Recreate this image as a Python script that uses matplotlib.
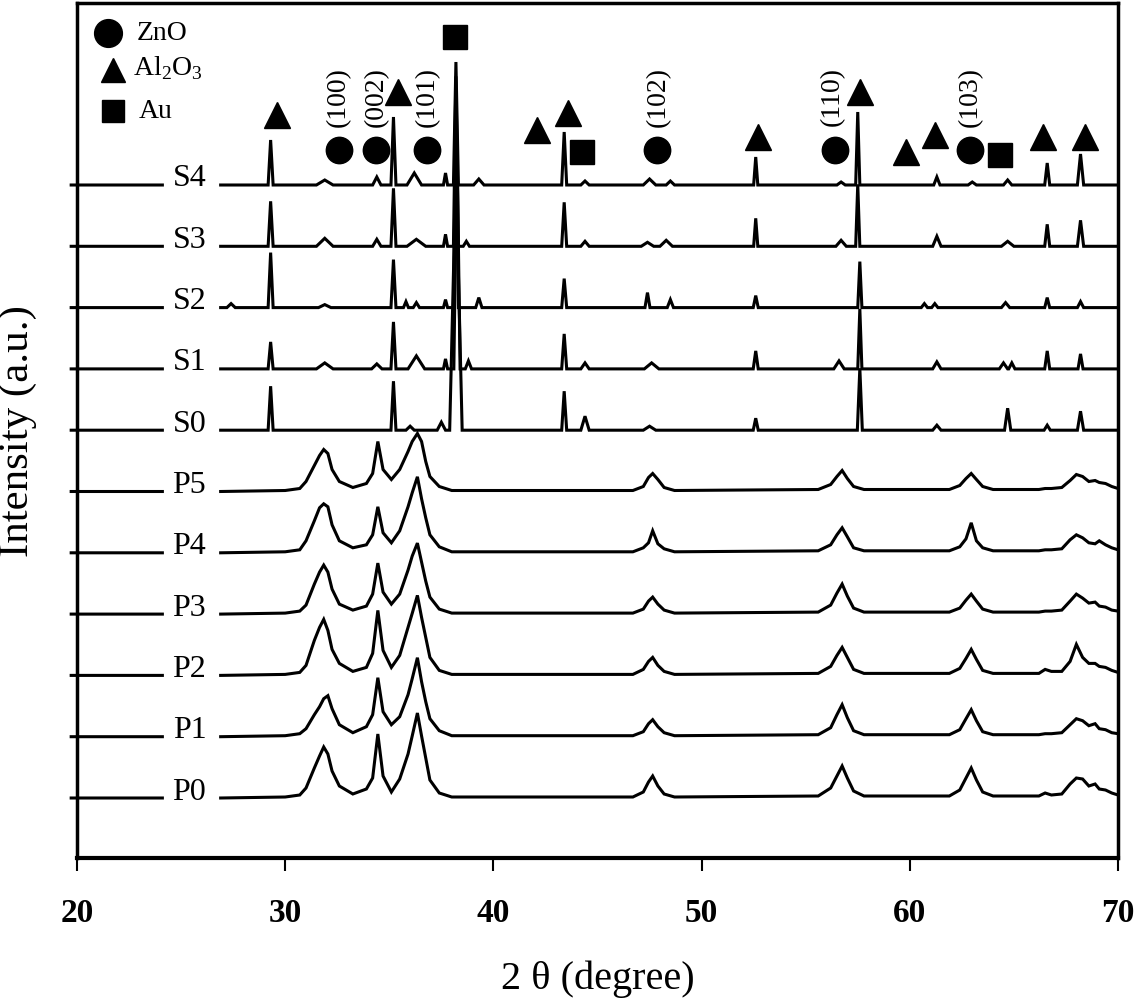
import matplotlib
matplotlib.use("Agg")
import matplotlib.pyplot as plt
import numpy as np

plt.rcParams['font.family'] = ['Liberation Serif', 'DejaVu Serif']
plt.rcParams['mathtext.fontset'] = 'custom'
plt.rcParams['mathtext.rm'] = 'Liberation Serif'

# sample names, bottom to top
names = ['P0', 'P1', 'P2', 'P3', 'P4', 'P5', 'S0', 'S1', 'S2', 'S3', 'S4']

# S samples: sharp peaks (2theta, intensity, half width)
s0_peaks = [(29.3, 44, .12), (35.2, 49, .12), (36.0, 4, .2), (37.5, 8, .2), (38.2, 260, .3),
            (43.4, 39, .12), (44.4, 14, .2), (47.5, 4, .3), (52.6, 12, .12), (57.6, 62, .12),
            (61.3, 5, .2), (64.7, 22, .15), (66.6, 5, .15), (68.2, 19, .15)]
s1_peaks = [(29.3, 27, .12), (31.9, 6, .4), (34.4, 5, .25), (35.2, 47, .12), (36.3, 13, .4),
            (37.7, 10, .1), (38.25, 230, .15), (38.8, 8, .15), (43.4, 35, .12), (44.4, 6, .2),
            (47.6, 6, .35), (52.6, 18, .12), (56.6, 8, .25), (57.6, 60, .1), (61.3, 7, .2),
            (64.5, 6, .2), (64.9, 6, .15), (66.6, 18, .12), (68.2, 15, .12)]
s2_peaks = [(27.4, 4, .2), (29.3, 55, .12), (31.9, 3, .3), (35.2, 48, .12), (35.8, 6, .12),
            (36.3, 5, .15), (37.7, 8, .1), (38.2, 200, .12), (39.3, 10, .15), (43.4, 29, .12),
            (47.4, 15, .12), (48.5, 8, .15), (52.6, 12, .12), (57.6, 46, .1), (60.7, 4, .15),
            (61.2, 4, .15), (64.6, 5, .2), (66.6, 10, .12), (68.2, 6, .15)]
s3_peaks = [(29.3, 45, .12), (31.9, 8, .4), (34.4, 7, .2), (35.2, 58, .12), (36.3, 7, .45),
            (37.7, 12, .1), (38.2, 170, .12), (38.7, 5, .15), (43.4, 44, .12), (44.4, 5, .2),
            (47.4, 4, .3), (48.3, 6, .3), (52.6, 28, .1), (56.7, 6, .25), (57.5, 62, .1),
            (61.3, 10, .2), (64.7, 5, .3), (66.6, 22, .12), (68.2, 26, .15)]
s4_peaks = [(29.3, 45, .12), (31.9, 5, .4), (34.4, 8, .2), (35.2, 68, .12), (36.2, 12, .35),
            (37.7, 12, .1), (38.2, 123, .12), (39.3, 6, .25), (43.4, 53, .12), (44.4, 4, .2),
            (47.5, 6, .3), (48.5, 4, .2), (52.6, 28, .1), (56.7, 3, .2), (57.5, 73, .1),
            (61.3, 8, .15), (63.0, 3, .2), (64.7, 5, .2), (66.6, 22, .12), (68.2, 31, .15)]

# P samples: broad ZnO patterns read point by point
p_x = [26.9, 30.0, 30.7, 31.0, 31.4, 31.65, 31.85, 32.05, 32.25, 32.6, 33.25, 33.9, 34.2,
       34.45, 34.7, 35.1, 35.5, 35.9, 36.1, 36.35, 36.55, 36.75, 36.95, 37.4, 38.0,
       46.7, 47.2, 47.45, 47.65, 47.9, 48.2, 48.7,
       55.6, 56.2, 56.5, 56.75, 57.0, 57.3, 57.8,
       61.9, 62.4, 62.7, 62.95, 63.2, 63.5, 64.0,
       66.2, 66.5, 66.8, 67.3, 67.7, 68.0, 68.3, 68.6, 68.9, 69.1, 69.4, 69.7, 70.0]
p0_y = [0, 1, 3, 10, 30, 42, 51, 44, 27, 12, 4, 9, 20, 64, 22, 6, 19, 44, 62, 85, 62, 40, 18, 5, 1,
        1, 6, 16, 22, 12, 4, 1,
        2, 10, 22, 32, 20, 7, 2,
        2, 8, 20, 30, 18, 6, 2,
        2, 5, 3, 4, 14, 20, 19, 12, 14, 9, 8, 5, 3]
p1_y = [0, 1, 3, 8, 22, 30, 38, 41, 28, 12, 4, 10, 22, 59, 25, 12, 20, 42, 58, 79, 55, 35, 18, 6, 1,
        1, 5, 13, 17, 10, 4, 1,
        2, 9, 22, 32, 19, 6, 2,
        2, 7, 18, 27, 16, 5, 2,
        2, 3, 3, 4, 12, 18, 16, 11, 13, 8, 7, 4, 3]
p2_y = [0, 1, 3, 10, 35, 48, 56, 45, 26, 12, 4, 8, 22, 65, 25, 8, 20, 48, 62, 80, 58, 38, 18, 5, 1,
        1, 6, 14, 18, 10, 4, 1,
        2, 9, 20, 28, 18, 6, 2,
        2, 7, 17, 26, 16, 5, 2,
        2, 6, 4, 4, 14, 31, 18, 12, 12, 9, 8, 5, 3]
p3_y = [0, 1, 3, 9, 30, 42, 49, 42, 25, 10, 4, 8, 20, 51, 22, 10, 20, 44, 58, 71, 52, 33, 17, 5, 1,
        1, 5, 13, 17, 10, 4, 1,
        2, 9, 21, 30, 18, 6, 2,
        2, 6, 14, 20, 13, 5, 2,
        2, 3, 3, 4, 13, 20, 16, 11, 12, 8, 7, 4, 3]
p4_y = [0, 1, 3, 12, 32, 45, 49, 46, 28, 12, 5, 8, 18, 46, 20, 10, 22, 46, 60, 76, 54, 35, 18, 6, 1,
        1, 5, 10, 22, 9, 4, 1,
        2, 8, 18, 25, 16, 5, 2,
        2, 6, 14, 30, 12, 5, 2,
        2, 3, 3, 4, 13, 18, 15, 10, 9, 12, 8, 5, 3]
p5_y = [0, 1, 3, 10, 26, 36, 42, 38, 22, 10, 4, 8, 18, 50, 22, 12, 22, 40, 50, 58, 50, 30, 15, 5, 1,
        1, 5, 14, 18, 12, 4, 1,
        2, 7, 15, 21, 13, 5, 2,
        2, 6, 13, 18, 12, 5, 2,
        2, 3, 3, 4, 11, 17, 15, 10, 11, 9, 8, 5, 3]

# phase markers (2theta of the marked reflections)
zno_marks = [32.6, 34.35, 36.8, 47.85, 56.4, 62.9]
al2o3_marks = [29.6, 35.4, 42.1, 43.6, 52.7, 57.6, 59.8, 61.2, 66.4, 68.4]
au_marks = [38.15, 44.25, 64.35]
hkl_labels = ['(100)', '(002)', '(101)', '(102)', '(110)', '(103)']
hkl_pos = [32.55, 34.4, 36.85, 47.9, 56.3, 62.9]

# layout
base0, step = 60, 61.3
zno_h = 708
al2o3_h = [743, 766, 728, 745, 721, 766, 706, 723, 721, 721]
au_h = [821, 706, 703]
lw = 2.2


def spikes(peaks):
    xs, ys = [26.9], [0]
    for p, h, w in peaks:
        xs += [p - w, p, p + w]
        ys += [0, h, 0]
    xs.append(70.0)
    ys.append(0)
    return xs, ys


traces = [(p_x, p0_y), (p_x, p1_y), (p_x, p2_y), (p_x, p3_y), (p_x, p4_y), (p_x, p5_y)]
for pk in [s0_peaks, s1_peaks, s2_peaks, s3_peaks, s4_peaks]:
    traces.append(spikes(pk))

fig = plt.figure(figsize=(11.36, 10), dpi=100)
ax = fig.add_axes([77 / 1136, 142 / 1000, 1041 / 1136, 855 / 1000])

for i, (xs, ys) in enumerate(traces):
    off = base0 + step * i
    # the left piece pokes a little past the left spine, as in the original
    x = np.array([19.72, 24.1, np.nan] + list(xs))
    y = np.array([0, 0, np.nan] + list(ys)) + off
    ax.plot(x, y, color='black', lw=lw, solid_joinstyle='miter', clip_on=False)
    ax.text(25.4, off + 6, names[i], fontsize=23, ha='center', va='center')

ax.plot(zno_marks, [zno_h] * len(zno_marks), 'o', color='black', ms=19, clip_on=False)
ax.plot(al2o3_marks, al2o3_h, '^', color='black', ms=19, clip_on=False)
ax.plot(au_marks, au_h, 's', color='black', ms=17, clip_on=False)
for lab, xp in zip(hkl_labels, hkl_pos):
    ax.text(xp, 761, lab, rotation=90, fontsize=20, ha='center', va='center')

# legend of phases
ax.plot([21.49], [825], 'o', color='black', ms=20)
ax.plot([21.73], [788], '^', color='black', ms=17)
ax.plot([21.73], [747], 's', color='black', ms=16)
ax.text(22.88, 825, 'ZnO', fontsize=20, va='center')
ax.text(22.69, 790, r'Al$_2$O$_3$', fontsize=20, va='center')
ax.text(22.98, 747, 'Au', fontsize=20, va='center')

ax.set_xlim(20, 70)
ax.set_ylim(0, 855)
ax.set_xticks(range(20, 71, 10))
ax.set_yticks([])
ax.tick_params(axis='x', direction='out', length=9, width=1.5, pad=20, labelsize=24)
for lbl in ax.get_xticklabels():
    lbl.set_fontweight('bold')
for sp in ax.spines.values():
    sp.set_linewidth(2.5)
ax.spines['bottom'].set_linewidth(3)

ax.set_xlabel('2 θ (degree)', fontsize=29)
ax.xaxis.set_label_coords(0.5, -0.142)
ax.xaxis.label.set_va('center')
ax.set_ylabel('Intensity (a.u.)', fontsize=31)
ax.yaxis.set_label_coords(-0.057, 0.499)
ax.yaxis.label.set_va('center')

fig.savefig('out.png', dpi=100)
